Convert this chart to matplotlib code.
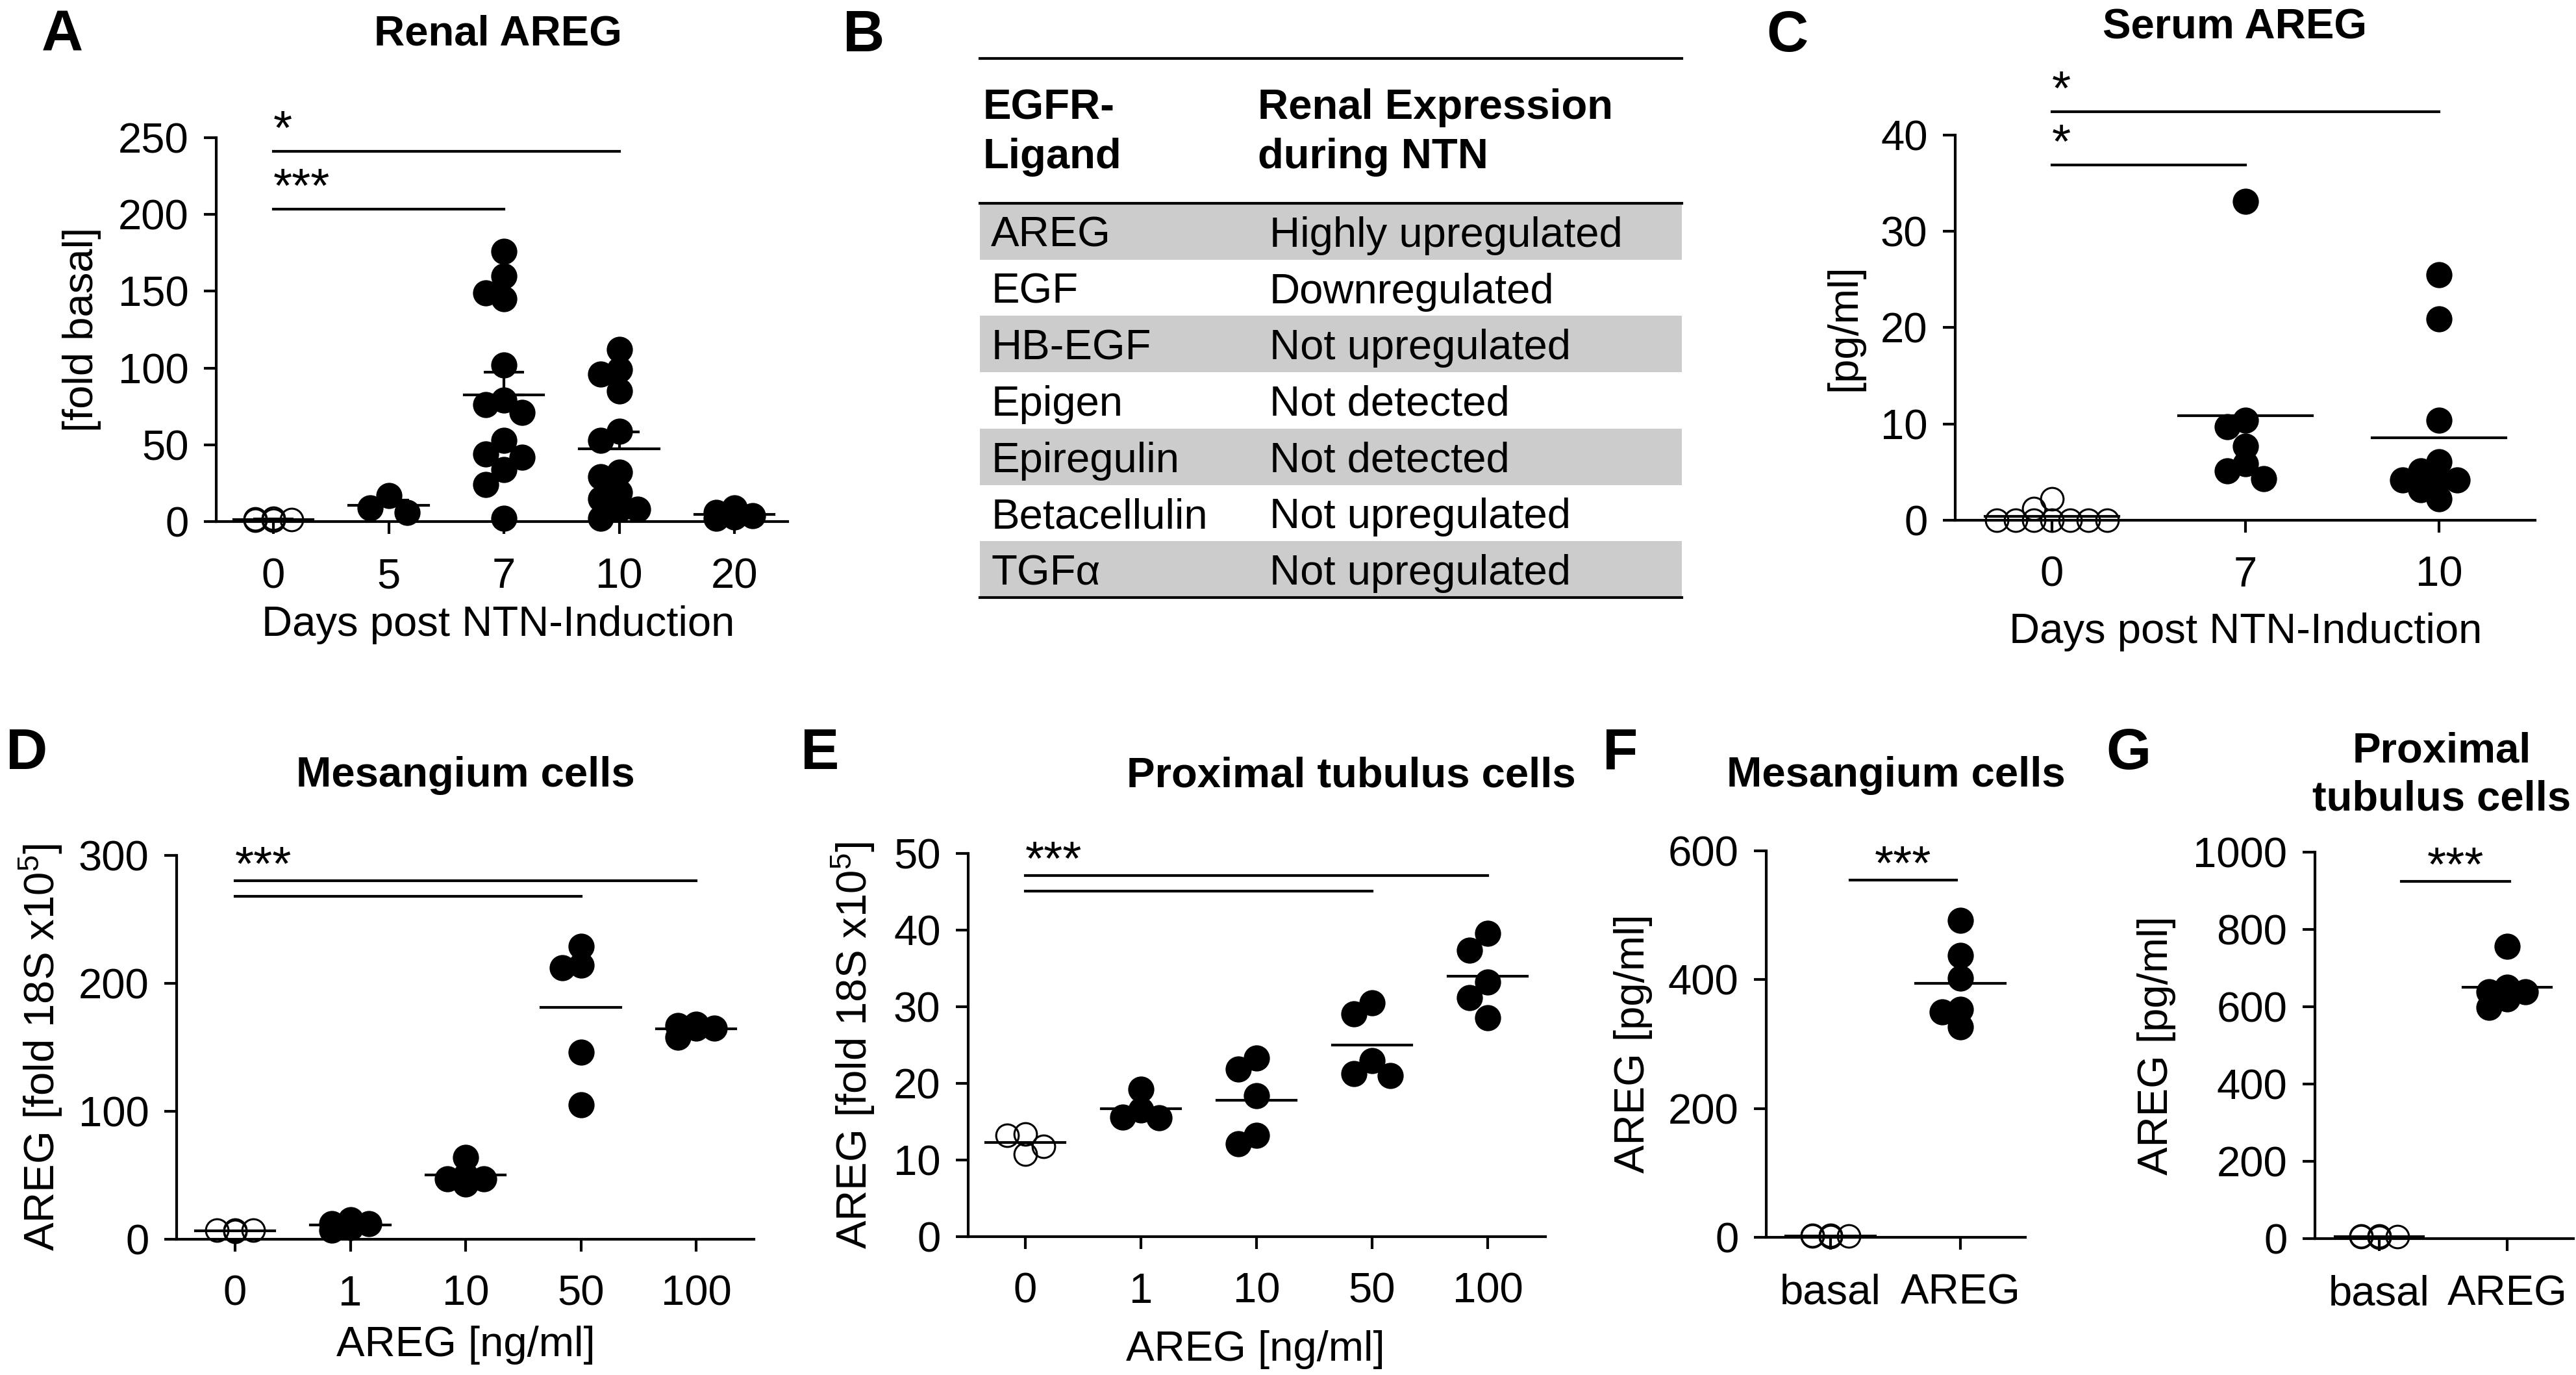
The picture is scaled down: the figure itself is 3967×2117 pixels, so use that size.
import matplotlib
matplotlib.use("Agg")
import matplotlib.pyplot as plt
import numpy as np

plt.rcParams["font.family"] = ["Liberation Sans", "DejaVu Sans"]
plt.rcParams["mathtext.fontset"] = "custom"
plt.rcParams["mathtext.rm"] = "Liberation Sans"
plt.rcParams["mathtext.default"] = "regular"

# ---- data ----
# A: renal AREG, fold basal
a_days = ["0", "5", "7", "10", "20"]
a_day0 = [1.2, 2.0, 1.5, 1.0, 0.8]
a_day5 = [17, 6, 9]
a_day7 = [176, 160, 149, 145, 102, 79, 76, 71, 53, 44, 42, 34, 24, 2]
a_day10 = [112, 96, 99, 85, 59, 53, 32, 29, 19, 15, 8, 8, 2]
a_day20 = [6, 2, 9, 3, 4]
a_sig = [(0, 3, 241, "*"), (0, 2, 203.5, "***")]

# B: table
ligands = ["AREG", "EGF", "HB-EGF", "Epigen", "Epiregulin", "Betacellulin", "TGFα"]
expression = ["Highly upregulated", "Downregulated", "Not upregulated",
              "Not detected", "Not detected", "Not upregulated", "Not upregulated"]
head_left = ["EGFR-", "Ligand"]
head_right = ["Renal Expression", "during NTN"]

# C: serum AREG, pg/ml
c_days = ["0", "7", "10"]
c_day0 = [0, 0, 0, 0, 0, 0, 0, 2.2, 1.2]
c_day7 = [33.1, 10.4, 9.7, 7.7, 5.9, 5.1, 4.3]
c_day10 = [25.5, 20.9, 10.4, 6.1, 5.1, 4.2, 4.2, 4.2, 3.2, 2.2]
c_sig = [(0, 2, 42.4, "*"), (0, 1, 36.9, "*")]

# D: mesangium cells, fold 18S
d_conc = ["0", "1", "10", "50", "100"]
d_0 = [7, 7, 7, 6]
d_1 = [12, 9, 15, 12, 7]
d_10 = [64, 50, 47, 47, 43]
d_50 = [229, 212, 214, 146, 105]
d_100 = [165, 167, 165, 158, 168]
d_sig = [(0, 4, 280, "***"), (0, 3, 268, None)]

# E: proximal tubulus cells, fold 18S
e_conc = ["0", "1", "10", "50", "100"]
e_0 = [13.2, 13.4, 11.8, 10.8]
e_1 = [19.2, 16.5, 15.5, 15.6]
e_10 = [23.3, 21.9, 18.4, 13.2, 12.1]
e_50 = [30.5, 29.1, 23.0, 21.0, 21.3]
e_100 = [39.6, 37.4, 33.2, 31.2, 28.6]
e_sig = [(0, 4, 47.1, "***"), (0, 3, 45.1, None)]

# F / G: secreted AREG, pg/ml
fg_groups = ["basal", "AREG"]
f_basal = [2, 3, 1, 2, 3, 2]
f_areg = [492, 438, 402, 354, 350, 327]
f_sig = [(0.15, 0.97, 554.5, "***")]
g_basal = [5, 6, 4, 5, 6, 5]
g_areg = [757, 650, 638, 638, 621, 599]
g_sig = [(0.17, 1.02, 924, "***")]

# ---- layout / style ----
W, H, DPI = 3967, 2117, 200
FS = 23.5
LW = 1.5
MS = 14.5

fig = plt.figure(figsize=(W / DPI, H / DPI), dpi=DPI)


def rect(left, top, right, bottom):
    return [left / W, 1 - bottom / H, (right - left) / W, (bottom - top) / H]


def put(x, y, s, **kw):
    kw.setdefault("fontsize", FS)
    return fig.text(x / W, 1 - y / H, s, **kw)


def swarm(ax, xc, vals, max_steps):
    """horizontal offsets (data units) so dots don't pile up, Prism-like"""
    ypx = ax.transData.transform(np.column_stack([np.full(len(vals), xc), vals]))[:, 1]
    unit = ax.transData.transform((xc + 1, 0))[0] - ax.transData.transform((xc, 0))[0]
    diam = MS * DPI / 72
    step = 0.7 * diam
    cands = [0]
    for k in range(1, max_steps + 1):
        cands += [-k, k]
    placed = []
    offs = np.zeros(len(vals))
    for i in np.argsort(-vals, kind="stable"):
        best, best_d = 0.0, -1.0
        for c in cands:
            dx = c * step
            d = min((np.hypot(dx - px, ypx[i] - py) for px, py in placed), default=np.inf)
            if d >= 0.65 * diam:
                best = dx
                break
            if d > best_d:
                best, best_d = dx, d
        placed.append((best, ypx[i]))
        offs[i] = best / unit
    return offs


def dot_panel(box, groups, labels, ylim, yticks, xlim, max_steps, sem=False):
    ax = fig.add_axes(rect(*box))
    ax.set_xlim(xlim)
    ax.set_ylim(ylim)
    for side in ("top", "right"):
        ax.spines[side].set_visible(False)
    for side in ("left", "bottom"):
        ax.spines[side].set_linewidth(LW)
    ax.set_xticks(range(len(labels)), labels)
    ax.set_yticks(yticks)
    ax.tick_params(length=6.8, width=LW, labelsize=FS)
    ax.tick_params(axis="x", pad=13)
    ax.tick_params(axis="y", pad=8.5)

    for i, vals in enumerate(groups):
        vals = np.asarray(vals, dtype=float)
        xs = i + swarm(ax, i, vals, max_steps)
        if i == 0:
            ax.plot(xs, vals, "o", ms=12.5, mfc="none", mec="black", mew=1.1,
                    ls="none", clip_on=False, zorder=3)
        else:
            ax.plot(xs, vals, "o", ms=MS, mfc="black", mec="black", mew=0,
                    ls="none", clip_on=False, zorder=3)
        m = vals.mean()
        ax.plot([i - 0.345, i + 0.345], [m, m], color="black", lw=LW,
                clip_on=False, zorder=2)
        if sem:
            err = vals.std(ddof=1) / np.sqrt(len(vals))
            ax.errorbar(i, m, yerr=[[0], [err]], fmt="none", ecolor="black",
                        elinewidth=LW, capsize=11, capthick=LW, zorder=2)
    return ax


def add_sig(ax, sigs, centered, lift):
    for x1, x2, y, txt in sigs:
        ax.plot([x1, x2], [y, y], color="black", lw=LW, clip_on=False)
        if txt is None:
            continue
        if centered:
            ax.annotate(txt, ((x1 + x2) / 2, y), xytext=(0, lift), textcoords="offset points",
                        ha="center", va="baseline", fontsize=27, annotation_clip=False)
        else:
            ax.annotate(txt, (x1, y), xytext=(0, lift), textcoords="offset points",
                        ha="left", va="baseline", fontsize=27, annotation_clip=False)


# A
ax_a = dot_panel((333, 212, 1213, 803), [a_day0, a_day5, a_day7, a_day10, a_day20],
                 a_days, (0, 250), range(0, 251, 50), (-0.496, 4.462), 1, sem=True)
add_sig(ax_a, a_sig, False, 4)

# C
ax_c = dot_panel((3011, 208, 3904, 801), [c_day0, c_day7, c_day10], c_days,
                 (0, 40), range(0, 41, 10), (-0.5, 2.497), 3)
add_sig(ax_c, c_sig, False, 4)

# D
ax_d = dot_panel((272, 1317, 1161, 1908), [d_0, d_1, d_10, d_50, d_100], d_conc,
                 (0, 300), range(0, 301, 100), (-0.507, 4.5), 1)
add_sig(ax_d, d_sig, False, 0.5)

# E
ax_e = dot_panel((1491, 1314, 2380, 1904), [e_0, e_1, e_10, e_50, e_100], e_conc,
                 (0, 50), range(0, 51, 10), (-0.494, 4.5), 1)
add_sig(ax_e, e_sig, False, 0.5)

# F
ax_f = dot_panel((2720, 1310, 3119, 1905), [f_basal, f_areg], fg_groups,
                 (0, 600), range(0, 601, 200), (-0.495, 1.5), 1)
add_sig(ax_f, f_sig, True, 0.5)

# G
ax_g = dot_panel((3565, 1312, 3963, 1907), [g_basal, g_areg], fg_groups,
                 (0, 1000), range(0, 1001, 200), (-0.503, 1.518), 1)
add_sig(ax_g, g_sig, True, 0.5)

# B: table
tb = fig.add_axes(rect(1509, 90, 2590, 920))
tb.axis("off")
head_h = 223 / 86.7
n = len(ligands)
tb.set_xlim(0, 1)
tb.set_ylim(head_h + n, 0)
for i in range(0, n, 2):
    tb.axhspan(head_h + i, head_h + i + 1, color="#cccccc", lw=0)
for y in (0, head_h, head_h + n):
    tb.axhline(y, color="black", lw=LW, clip_on=False)
for k, (l, r) in enumerate(zip(head_left, head_right)):
    yb = 1.073 + 0.877 * k
    tb.text(0.004, yb, l, fontsize=FS, fontweight="bold", va="baseline")
    tb.text(0.396, yb, r, fontsize=FS, fontweight="bold", va="baseline")
for i, (lig, expr) in enumerate(zip(ligands, expression)):
    yb = head_h + i + 0.77
    tb.text(0.016, yb, lig, fontsize=FS, va="baseline")
    tb.text(0.4126, yb, expr, fontsize=FS, va="baseline")

# panel letters
for letter, x, y in [("A", 64, 79), ("B", 1298, 79), ("C", 2720, 79), ("D", 9, 1184),
                     ("E", 1233, 1184), ("F", 2468, 1184), ("G", 3243, 1184)]:
    put(x, y, letter, fontsize=32, fontweight="bold", va="baseline", ha="left")

# titles
put(767, 70, "Renal AREG", fontweight="bold", ha="center", va="baseline")
put(3441, 59, "Serum AREG", fontweight="bold", ha="center", va="baseline")
put(717, 1211, "Mesangium cells", fontweight="bold", ha="center", va="baseline")
put(2081, 1212, "Proximal tubulus cells", fontweight="bold", ha="center", va="baseline")
put(2920, 1211, "Mesangium cells", fontweight="bold", ha="center", va="baseline")
for k, line in enumerate("Proximal\ntubulus cells".split("\n")):
    put(3760, 1174 + 74 * k, line, fontweight="bold", ha="center", va="baseline")

# axis labels
put(126, 507, "[fold basal]", rotation=90, ha="center", va="center")
put(2840, 504, "[pg/ml]", rotation=90, ha="center", va="center")
put(63, 1612, "AREG [fold 18S x10$^5$]", rotation=90, ha="center", va="center")
put(1314, 1609, "AREG [fold 18S x10$^5$]", rotation=90, ha="center", va="center")
put(2515, 1607, "AREG [pg/ml]", rotation=90, ha="center", va="center")
put(3321, 1610, "AREG [pg/ml]", rotation=90, ha="center", va="center")
put(767, 979, "Days post NTN-Induction", ha="center", va="baseline")
put(3458, 990, "Days post NTN-Induction", ha="center", va="baseline")
put(717, 2088, "AREG [ng/ml]", ha="center", va="baseline")
put(1933, 2095, "AREG [ng/ml]", ha="center", va="baseline")

fig.savefig("out.png", dpi=DPI)
